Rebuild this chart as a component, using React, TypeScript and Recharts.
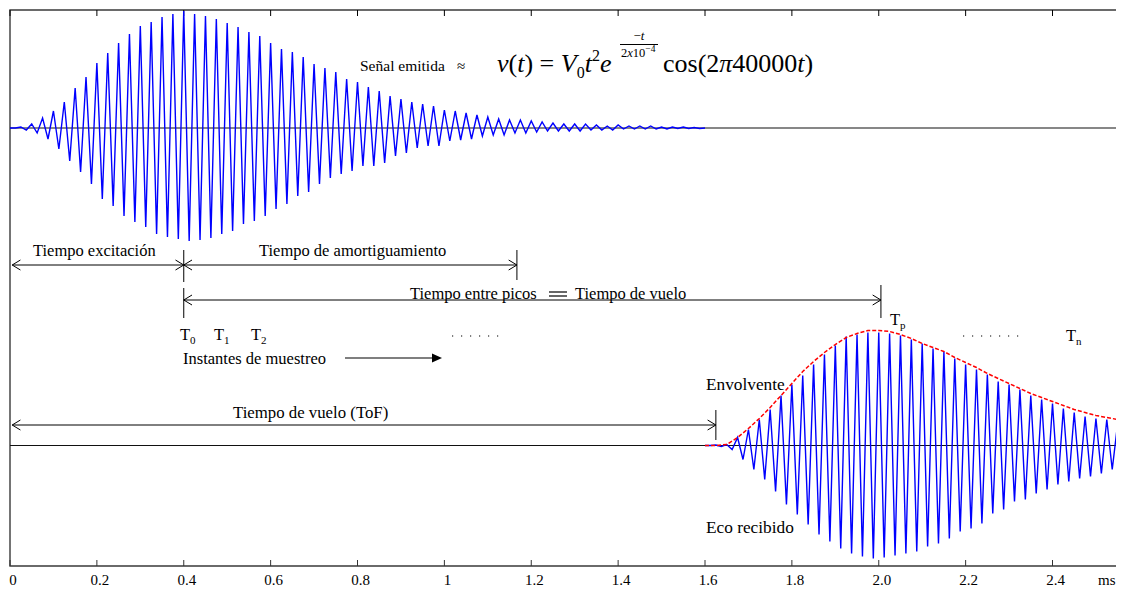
import React from 'react';
import {
  LineChart,
  Line,
  XAxis,
  YAxis,
  ReferenceLine,
  ReferenceArea,
  Customized
} from 'recharts';

const SERIF = "'Liberation Serif', 'Times New Roman', Times, serif";

// x axis (ms)
const X_MAX = 2.56;
const TICKS = [0, 0.2, 0.4, 0.6, 0.8, 1, 1.2, 1.4, 1.6, 1.8, 2, 2.2, 2.4];
const TICK_LABELS = ['0', '0.2', '0.4', '0.6', '0.8', '1', '1.2', '1.4', '1.6', '1.8', '2.0', '2.2', '2.4'];

// y axis: emitted signal around 0, echo around ECHO_BASE
const Y_MIN = -438;
const Y_MAX = 118;
const ECHO_BASE = -317.5;

// 40 kHz -> one peak every half period
const HALF = 0.0125;

// emitted signal, alternating peaks from t = 0
const EMITTED = [
  0, 0, 1, -2, 4, -5, 10, -11, 17, -21,
  26, -33, 40, -44, 51, -56, 65, -71, 75, -78,
  85, -88, 94, -94, 102, -99, 106, -106, 111, -109,
  114, -111, 117, -113, 114, -112, 112, -110, 109, -106,
  105, -103, 101, -96, 96, -93, 92, -88, 85, -81,
  79, -76, 76, -68, 71, -64, 64, -56, 60, -50,
  56, -46, 49, -43, 46, -38, 41, -38, 37, -35,
  32, -28, 29, -25, 26, -20, 24, -18, 22, -18,
  18, -13, 17, -12, 15, -11, 13, -8, 11, -7,
  9, -7, 8, -5, 8, -5, 7, -4, 6, -3,
  5, -3, 4, -3, 4, -3, 4, -2, 3, -2,
  2, -2, 3, -1, 2, -1, 2, -1, 2, -1,
  1, -1, 1, -0.5, 1, -0.5, 0.5, -0.5, 0
];

// received echo, alternating peaks from t = 1.6 ms
const ECHO_START = 1.6;
const ECHO = [
  0, 0, 0.5, -1, 1, -4, 8, -14, 16, -24,
  26, -34, 36, -46, 50, -59, 61, -69, 70, -79,
  81, -89, 91, -96, 100, -103, 109, -108, 111, -111,
  113, -113, 113, -112, 112, -110, 110, -108, 106, -106,
  102, -101, 97, -98, 94, -93, 87, -86, 81, -83,
  76, -78, 71, -68, 64, -64, 61, -56, 56, -54,
  50, -48, 46, -44, 42, -39, 37, -36, 33, -33,
  29, -31, 27, -28, 26, -24, 22, -20
];

// envelope of the echo, one value per period from 1.6 ms
const ENV_START = 1.6;
const ENV_STEP = 0.025;
const ENVELOPE = [
  0, 0, 1, 8, 17, 27, 38, 50, 62, 74,
  84, 93, 101, 108, 112, 115, 115, 114, 111, 107,
  102, 98, 94, 88, 83, 78, 72, 67, 62, 57,
  52, 48, 44, 40, 36, 33, 30, 28, 26, 24
];

const emitData = EMITTED.map((v, i) => ({ t: i * HALF, v }));
const echoData = ECHO.map((v, i) => ({ t: ECHO_START + i * HALF, v: ECHO_BASE + v }));
const envData = ENVELOPE.map((v, i) => ({ t: ENV_START + i * ENV_STEP, v: ECHO_BASE + v }));

const serifStyle = { fontFamily: SERIF };

const BottomTick = (props: any) => {
  const { x, y, payload } = props;
  const label = TICK_LABELS[TICKS.indexOf(payload.value)];
  return (
    <g>
      <line x1={x} x2={x} y1={y} y2={y - 6} stroke="#333" strokeWidth={1} />
      <text x={x + 3} y={y + 19} textAnchor="middle" fontSize={15} style={serifStyle} fill="#000">
        {label}
      </text>
    </g>
  );
};

// dimension arrows, drawn with reference line segments
const AH_X = 0.019;
const AH_Y = 5;
const seg = (key: string, x1: number, y1: number, x2: number, y2: number) => (
  <ReferenceLine
    key={key}
    segment={[{ x: x1, y: y1 }, { x: x2, y: y2 }]}
    stroke="#000"
    strokeWidth={1}
    ifOverflow="visible"
  />
);
const dimArrow = (key: string, t1: number, t2: number, y: number) => [
  seg(key + 'l', t1, y, t2, y),
  seg(key + 'a', t1, y, t1 + AH_X, y + AH_Y),
  seg(key + 'b', t1, y, t1 + AH_X, y - AH_Y),
  seg(key + 'c', t2, y, t2 - AH_X, y + AH_Y),
  seg(key + 'd', t2, y, t2 - AH_X, y - AH_Y)
];

const txt = { style: serifStyle, fill: '#000' };

const Annotations = () => (
  <g transform="translate(-8,-8)">
    <text x={33} y={256} fontSize={16.5} {...txt}>Tiempo excitación</text>
    <text x={259} y={256} fontSize={16.5} {...txt}>Tiempo de amortiguamiento</text>
    <text x={410} y={299} fontSize={16.5} {...txt}>Tiempo entre picos</text>
    <line x1={549} x2={567} y1={292} y2={292} stroke="#000" strokeWidth={1.2} />
    <line x1={549} x2={567} y1={296} y2={296} stroke="#000" strokeWidth={1.2} />
    <text x={575} y={299} fontSize={16.5} {...txt}>Tiempo de vuelo</text>

    <text x={180} y={340} fontSize={16.5} {...txt}>T<tspan fontSize={11} dy={4}>0</tspan></text>
    <text x={214} y={340} fontSize={16.5} {...txt}>T<tspan fontSize={11} dy={4}>1</tspan></text>
    <text x={251} y={340} fontSize={16.5} {...txt}>T<tspan fontSize={11} dy={4}>2</tspan></text>
    <line x1={452} x2={506} y1={336} y2={336} stroke="#000" strokeWidth={1.2} strokeDasharray="1.2 7.8" />
    <text x={890} y={325} fontSize={16.5} {...txt}>T<tspan fontSize={11} dy={4}>p</tspan></text>
    <line x1={963} x2={1019} y1={336} y2={336} stroke="#000" strokeWidth={1.2} strokeDasharray="1.2 7.8" />
    <text x={1066} y={341} fontSize={16.5} {...txt}>T<tspan fontSize={11} dy={4}>n</tspan></text>

    <text x={183} y={364} fontSize={16.5} {...txt}>Instantes de muestreo</text>
    <line x1={345} x2={434} y1={358} y2={358} stroke="#000" strokeWidth={1.2} />
    <polygon points="442,358 432,353.5 432,362.5" fill="#000" />

    <text x={706} y={390} fontSize={17.3} {...txt}>Envolvente</text>
    <text x={233} y={418} fontSize={16.8} {...txt}>Tiempo de vuelo (ToF)</text>
    <text x={706} y={533} fontSize={17.3} {...txt}>Eco recibido</text>

    <text x={360} y={71} fontSize={15.5} {...txt}>Señal emitida</text>
    <text x={457} y={71} fontSize={15} {...txt}>≈</text>
    <text x={497} y={72} fontSize={26} {...txt}>
      <tspan fontStyle="italic">v</tspan>(<tspan fontStyle="italic">t</tspan>) = <tspan fontStyle="italic">V</tspan>
      <tspan fontSize={16} dy={6}>0</tspan>
      <tspan fontStyle="italic" dy={-6}>t</tspan>
      <tspan fontSize={16} dy={-11}>2</tspan>
      <tspan fontStyle="italic" dy={11}>e</tspan>
    </text>
    <text x={639} y={40} fontSize={13} textAnchor="middle" {...txt}>−<tspan fontStyle="italic">t</tspan></text>
    <line x1={620} x2={658} y1={44.5} y2={44.5} stroke="#000" strokeWidth={1} />
    <text x={621} y={57} fontSize={12.5} {...txt}>2<tspan fontStyle="italic">x</tspan>10<tspan fontSize={9.5} dy={-5}>−4</tspan></text>
    <text x={663} y={72} fontSize={26} {...txt}>
      cos(2<tspan fontStyle="italic">π</tspan>40000<tspan fontStyle="italic">t</tspan>)
    </text>

    <text x={1098} y={585} fontSize={15} {...txt}>ms</text>
  </g>
);

const App: React.FC = () => {
  return (
    <LineChart width={1116} height={584} margin={{ top: 2, right: 2, left: 2, bottom: 0 }}>
      <XAxis
        dataKey="t"
        type="number"
        domain={[0, X_MAX]}
        allowDataOverflow
        ticks={TICKS}
        interval={0}
        height={26}
        axisLine={false}
        tickLine={false}
        tickSize={0}
        tickMargin={0}
        tick={<BottomTick />}
      />
      <YAxis type="number" domain={[Y_MIN, Y_MAX]} allowDataOverflow hide />

      <ReferenceArea
        x1={0}
        x2={X_MAX}
        y1={Y_MIN}
        y2={Y_MAX}
        fill="none"
        stroke="#3a3a3a"
        strokeWidth={1.4}
        ifOverflow="visible"
      />
      {TICKS.map((v) => seg('top' + v, v, Y_MAX, v, Y_MAX - 6))}

      <ReferenceLine y={0} stroke="#111" strokeWidth={1.2} />
      <ReferenceLine y={ECHO_BASE} stroke="#111" strokeWidth={1.2} />

      {dimArrow('exc', 0.005, 0.4, -137)}
      {dimArrow('amo', 0.4, 1.167, -137)}
      {dimArrow('pic', 0.4, 2.005, -172)}
      {dimArrow('tof', 0.005, 1.625, -297)}
      {seg('v1', 0.4, -122, 0.4, -154)}
      {seg('v2', 1.167, -122, 1.167, -152)}
      {seg('v3', 0.4, -160, 0.4, -190)}
      {seg('v4', 2.005, -157, 2.005, -190)}
      {seg('v5', 1.625, -282, 1.625, -312)}

      <Line
        data={emitData}
        dataKey="v"
        type="linear"
        stroke="#0000ff"
        strokeWidth={1.4}
        dot={false}
        activeDot={false}
        isAnimationActive={false}
      />
      <Line
        data={echoData}
        dataKey="v"
        type="linear"
        stroke="#0000ff"
        strokeWidth={1.4}
        dot={false}
        activeDot={false}
        isAnimationActive={false}
      />
      <Line
        data={envData}
        dataKey="v"
        type="linear"
        stroke="#ff0000"
        strokeWidth={1.5}
        strokeDasharray="4 2"
        dot={false}
        activeDot={false}
        isAnimationActive={false}
      />

      <Customized component={Annotations} />
    </LineChart>
  );
};

export default App;
